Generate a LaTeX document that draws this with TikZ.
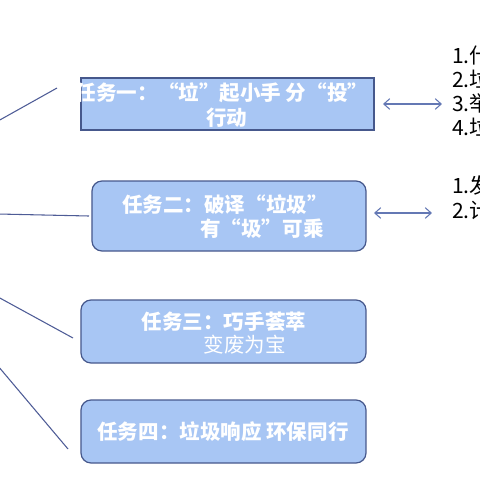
\documentclass[tikz,border=0pt]{standalone}
\usepackage{fontspec}
\usepackage{tikz}
\usetikzlibrary{arrows.meta}
\newfontfamily\cjk{Noto Sans CJK SC}

\definecolor{taskfill}{RGB}{168,198,244}
\definecolor{taskdraw}{RGB}{70,88,140}
\definecolor{linkline}{RGB}{78,92,150}
\definecolor{biline}{RGB}{100,120,180}

\tikzset{
  taskbox/.style={draw=taskdraw, line width=0.9pt, fill=taskfill, inner sep=0pt},
  tasktext/.style={inner sep=0pt, font=\cjk\fontsize{15.4pt}{18pt}\selectfont\bfseries, text=white},
  listtext/.style={inner sep=0pt, align=left, anchor=west, font=\cjk\fontsize{15.8pt}{18pt}\selectfont},
  linkto/.style={draw=linkline, line width=0.8pt},
  biarrow/.style={draw=biline, line width=0.8pt, {Straight Barb[length=4.5pt,width=8pt]}-{Straight Barb[length=4.5pt,width=8pt]}},
}

\begin{document}
\begin{tikzpicture}[x=0.75pt,y=0.75pt,yscale=-1,xscale=1]
\useasboundingbox (0,0) rectangle (480,480);
\clip (0,0) rectangle (480,480);

%Shape: task boxes
\node [taskbox, minimum width=219.75pt, minimum height=39pt] (box1) at (227.5,104) {};
\node [taskbox, rounded corners=7.5pt, minimum width=205.5pt, minimum height=52.5pt] (box2) at (229,216) {};
\node [taskbox, rounded corners=7.5pt, minimum width=213.75pt, minimum height=47.25pt] (box3) at (223.5,331.5) {};
\node [taskbox, rounded corners=7.5pt, minimum width=213.75pt, minimum height=47.25pt] (box4) at (223.5,431.5) {};

% Text Node
\node [tasktext] (t1a) at (222,93) {任务一：“垃”起小手 分“投”};
\node [tasktext] (t1b) at (227,118) {行动};
\node [tasktext] (t2a) at (225,205) {任务二：破译“垃圾”};
\node [tasktext] (t2b) at (262,229) {有“圾”可乘};
\node [tasktext] (t3a) at (224,322) {任务三：巧手荟萃};
\node [tasktext, font=\cjk\fontsize{15.4pt}{18pt}\selectfont] (t3b) at (245,345) {变废为宝};
\node [tasktext] (t4a) at (223,432) {任务四：垃圾响应 环保同行};

% Text Node
\node [listtext] (list1) at (452,91) {1.什\\2.垃\\3.举\\4.垃};
\node [listtext, font=\cjk\fontsize{15.8pt}{18.75pt}\selectfont] (list2) at (452,197.5) {1.发\\2.计};

%Straight Lines
\coordinate (l1s) at (-2,121);
\coordinate (l1e) at (57,88);
\coordinate (l2s) at (-2,214);
\coordinate (l2e) at (89,216);
\coordinate (l3s) at (-2,297);
\coordinate (l3e) at (73,338);
\coordinate (l4s) at (-2,366);
\coordinate (l4e) at (68,449);
\draw [linkto] (l1s) -- (l1e);
\draw [linkto] (l2s) -- (l2e);
\draw [linkto] (l3s) -- (l3e);
\draw [linkto] (l4s) -- (l4e);

%Straight Lines with double arrows
\coordinate (a1s) at (383,104);
\coordinate (a1e) at (442,104);
\coordinate (a2s) at (374,213);
\coordinate (a2e) at (432,213);
\draw [biarrow] (a1s) -- (a1e);
\draw [biarrow] (a2s) -- (a2e);

\end{tikzpicture}
\end{document}
